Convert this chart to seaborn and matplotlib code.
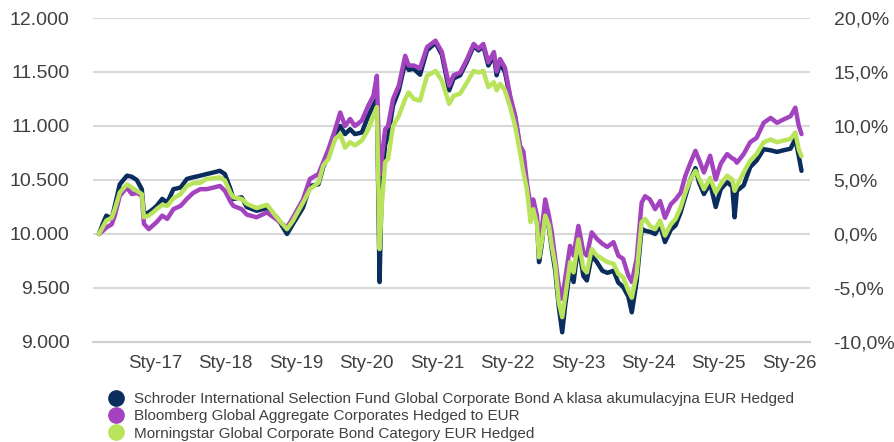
import matplotlib
matplotlib.use("Agg")
import matplotlib.pyplot as plt
import seaborn as sns
import pandas as pd
from matplotlib.lines import Line2D

# ---------------- data ----------------
dates = [
    "2016-03-15", "2016-04-05", "2016-04-22", "2016-05-20", "2016-06-05", "2016-07-01",
    "2016-08-07", "2016-09-01", "2016-09-27", "2016-10-23", "2016-11-03", "2016-11-28",
    "2016-12-20", "2017-01-08", "2017-02-06", "2017-03-04", "2017-04-05", "2017-05-12",
    "2017-06-14", "2017-07-16", "2017-08-22", "2017-09-24", "2017-10-30", "2017-12-02",
    "2017-12-28", "2018-01-26", "2018-02-10", "2018-03-25", "2018-04-20", "2018-06-10",
    "2018-08-03", "2018-09-25", "2018-11-15", "2018-12-15", "2019-02-06", "2019-03-14",
    "2019-04-27", "2019-05-22", "2019-06-18", "2019-07-23", "2019-08-18", "2019-09-12",
    "2019-10-08", "2019-11-02", "2019-12-08", "2020-01-11", "2020-02-06", "2020-02-24",
    "2020-03-09", "2020-03-20", "2020-04-07", "2020-04-22", "2020-05-18", "2020-06-17",
    "2020-07-20", "2020-08-07", "2020-09-02", "2020-10-05", "2020-11-10", "2020-12-24",
    "2021-01-26", "2021-03-05", "2021-03-28", "2021-05-01", "2021-06-06", "2021-07-10",
    "2021-08-04", "2021-08-29", "2021-09-24", "2021-10-23", "2021-11-06", "2021-11-24",
    "2021-12-19", "2022-01-15", "2022-02-10", "2022-03-07", "2022-03-25", "2022-04-12",
    "2022-05-01", "2022-05-15", "2022-06-03", "2022-06-14", "2022-06-28", "2022-07-16",
    "2022-08-04", "2022-08-19", "2022-09-06", "2022-09-24", "2022-10-12", "2022-10-27",
    "2022-11-22", "2022-12-10", "2023-01-04", "2023-01-30", "2023-02-17", "2023-03-14",
    "2023-04-10", "2023-05-08", "2023-06-03", "2023-07-05", "2023-07-30", "2023-08-24",
    "2023-09-20", "2023-10-08", "2023-11-02", "2023-11-28", "2023-12-16", "2024-01-10",
    "2024-02-06", "2024-03-03", "2024-03-28", "2024-04-27", "2024-05-22", "2024-06-17",
    "2024-07-12", "2024-08-07", "2024-09-02", "2024-09-20", "2024-10-16", "2024-11-17",
    "2024-12-16", "2025-01-11", "2025-02-13", "2025-03-12", "2025-03-24", "2025-04-05",
    "2025-05-10", "2025-06-13", "2025-07-16", "2025-08-22", "2025-09-27", "2025-10-30",
    "2025-12-02", "2026-01-08", "2026-02-02", "2026-02-20", "2026-03-06",
]

fund = [
    10000, 10100, 10170, 10140, 10260, 10460, 10540, 10530, 10500, 10415, 10185, 10200,
    10230, 10260, 10325, 10290, 10415, 10430, 10510, 10525, 10540, 10555, 10570, 10585,
    10555, 10415, 10325, 10340, 10250, 10215, 10240, 10150, 10000, 10090, 10245, 10445,
    10460, 10620, 10740, 10925, 11000, 10925, 10970, 10925, 10940, 11095, 11190, 11250,
    9555, 10445, 10830, 10900, 11190, 11330, 11590, 11520, 11530, 11475, 11700, 11770,
    11660, 11330, 11440, 11470, 11600, 11740, 11700, 11740, 11560, 11650, 11470, 11580,
    11500, 11260, 11080, 10800, 10700, 10440, 10200, 10290, 10130, 9740, 9900, 10250,
    10060, 9860, 9660, 9330, 9090, 9330, 9680, 9555, 9900, 9610, 9570, 9800,
    9740, 9660, 9640, 9660, 9550, 9510, 9420, 9275, 9560, 10050, 10030, 10020,
    10000, 10080, 9925, 10040, 10080, 10200, 10350, 10505, 10610, 10480, 10370, 10470,
    10250, 10415, 10480, 10440, 10155, 10400, 10450, 10620, 10680, 10785, 10775, 10760,
    10775, 10790, 10880, 10720, 10585,
]

benchmark = [
    10000, 10030, 10060, 10090, 10170, 10355, 10430, 10370, 10380, 10355, 10095, 10045,
    10080, 10110, 10170, 10140, 10230, 10260, 10325, 10380, 10415, 10415, 10430, 10445,
    10400, 10300, 10260, 10230, 10180, 10155, 10200, 10130, 10060, 10150, 10320, 10510,
    10555, 10665, 10785, 10970, 11125, 11000, 11065, 11000, 11050, 11190, 11280, 11465,
    10550, 10695, 10970, 11000, 11250, 11375, 11650, 11560, 11560, 11535, 11730, 11790,
    11685, 11375, 11470, 11495, 11620, 11760, 11715, 11760, 11590, 11685, 11505, 11620,
    11540, 11280, 11095, 10820, 10760, 10475, 10260, 10320, 10170, 9860, 10045, 10320,
    10170, 10015, 9770, 9520, 9400, 9580, 9890, 9800, 10075, 9830, 9800, 10015,
    9955, 9910, 9880, 9925, 9800, 9770, 9615, 9555, 9770, 10290, 10350, 10320,
    10230, 10305, 10150, 10275, 10320, 10380, 10540, 10660, 10770, 10690, 10570, 10725,
    10505, 10650, 10740, 10700, 10690, 10660, 10740, 10850, 10890, 11030, 11075, 11030,
    11060, 11090, 11170, 11000, 10925,
]

category = [
    10000, 10070, 10125, 10150, 10230, 10385, 10460, 10430, 10400, 10370, 10155, 10170,
    10200, 10230, 10270, 10260, 10330, 10370, 10445, 10470, 10475, 10510, 10515, 10525,
    10495, 10380, 10340, 10325, 10280, 10240, 10270, 10150, 10045, 10120, 10290, 10415,
    10475, 10635, 10695, 10880, 10925, 10800, 10850, 10820, 10865, 10970, 11095, 11175,
    9860, 10260, 10665, 10695, 11000, 11095, 11250, 11310, 11250, 11235, 11465, 11510,
    11420, 11205, 11280, 11300, 11405, 11510, 11495, 11510, 11360, 11405, 11330, 11390,
    11330, 11175, 11000, 10760, 10570, 10415, 10110, 10230, 10090, 9785, 9925, 10170,
    10080, 9890, 9710, 9370, 9230, 9410, 9740, 9645, 9950, 9680, 9645, 9860,
    9800, 9770, 9740, 9725, 9630, 9600, 9475, 9410, 9630, 10110, 10140, 10075,
    10045, 10125, 9985, 10090, 10140, 10245, 10385, 10505, 10585, 10520, 10415, 10520,
    10385, 10460, 10540, 10505, 10400, 10445, 10570, 10680, 10740, 10850, 10875, 10850,
    10865, 10880, 10940, 10780, 10720,
]

series_names = [
    "Schroder International Selection Fund Global Corporate Bond A klasa akumulacyjna EUR Hedged",
    "Bloomberg Global Aggregate Corporates Hedged to EUR",
    "Morningstar Global Corporate Bond Category EUR Hedged",
]
series_colors = ["#0b2d5e", "#a443bf", "#b8e35a"]

x_tick_years = [2017, 2018, 2019, 2020, 2021, 2022, 2023, 2024, 2025, 2026]
x_tick_labels = ["Sty-17", "Sty-18", "Sty-19", "Sty-20", "Sty-21",
                 "Sty-22", "Sty-23", "Sty-24", "Sty-25", "Sty-26"]
y_ticks = [9000, 9500, 10000, 10500, 11000, 11500, 12000]
pct_ticks = [-10, -5, 0, 5, 10, 15, 20]

# ---------------- build long table ----------------
frames = []
for name, vals in zip(series_names, [fund, benchmark, category]):
    frames.append(pd.DataFrame({"date": pd.to_datetime(dates), "value": vals, "series": name}))
df = pd.concat(frames, ignore_index=True)

sns.set_theme(style="white")
plt.rcParams["font.family"] = ["Liberation Sans", "DejaVu Sans"]
text_color = "#404040"

W, H = 895, 442
fig = plt.figure(figsize=(W / 100, H / 100), dpi=100)
left, right, top, bottom = 93, 810, 18, 342
ax = fig.add_axes([left / W, 1 - bottom / H, (right - left) / W, (bottom - top) / H])

sns.lineplot(data=df, x="date", y="value", hue="series", hue_order=series_names,
             palette=series_colors, linewidth=3.2, estimator=None, sort=False,
             legend=False, ax=ax)

ax.set_xlim(pd.Timestamp("2016-02-13"), pd.Timestamp("2026-04-19"))
ax.set_ylim(9000, 12000)
ax.set_xticks(pd.to_datetime([f"{y}-01-01" for y in x_tick_years]))
ax.set_xticklabels(x_tick_labels)
ax.set_yticks(y_ticks)
ax.set_yticklabels([f"{v:,}".replace(",", ".") for v in y_ticks])
ax.set_xlabel("")
ax.set_ylabel("")
ax.grid(axis="y", color="#d9d9d9", linewidth=1.5)
ax.grid(axis="x", visible=False)
ax.set_axisbelow(True)
for s in ["top", "right", "left"]:
    ax.spines[s].set_visible(False)
ax.spines["bottom"].set_color("#d0d0d0")
ax.spines["bottom"].set_linewidth(1.5)
ax.tick_params(axis="y", length=0, pad=17, labelsize=14, labelcolor=text_color)
ax.tick_params(axis="x", length=0, pad=9, labelsize=13.5, labelcolor=text_color)

ax2 = ax.twinx()
ax2.set_ylim(-10, 20)
ax2.set_yticks(pct_ticks)
ax2.set_yticklabels([f"{v:.1f}%".replace(".", ",") for v in pct_ticks])
ax2.grid(False)
for s in ax2.spines.values():
    s.set_visible(False)
ax2.tick_params(axis="y", length=0, pad=17, labelsize=14, labelcolor=text_color)

handles = [Line2D([], [], linestyle="none", marker="o", markersize=11,
                  markerfacecolor=c, markeredgecolor=c) for c in series_colors]
fig.legend(handles, series_names, loc="upper left", bbox_to_anchor=(110 / W, 1 - 392 / H),
           frameon=False, fontsize=11, labelcolor=text_color, handlelength=0.8,
           handletextpad=0.75, labelspacing=0.22, borderaxespad=0, borderpad=0)

fig.savefig("out.png", dpi=100)
